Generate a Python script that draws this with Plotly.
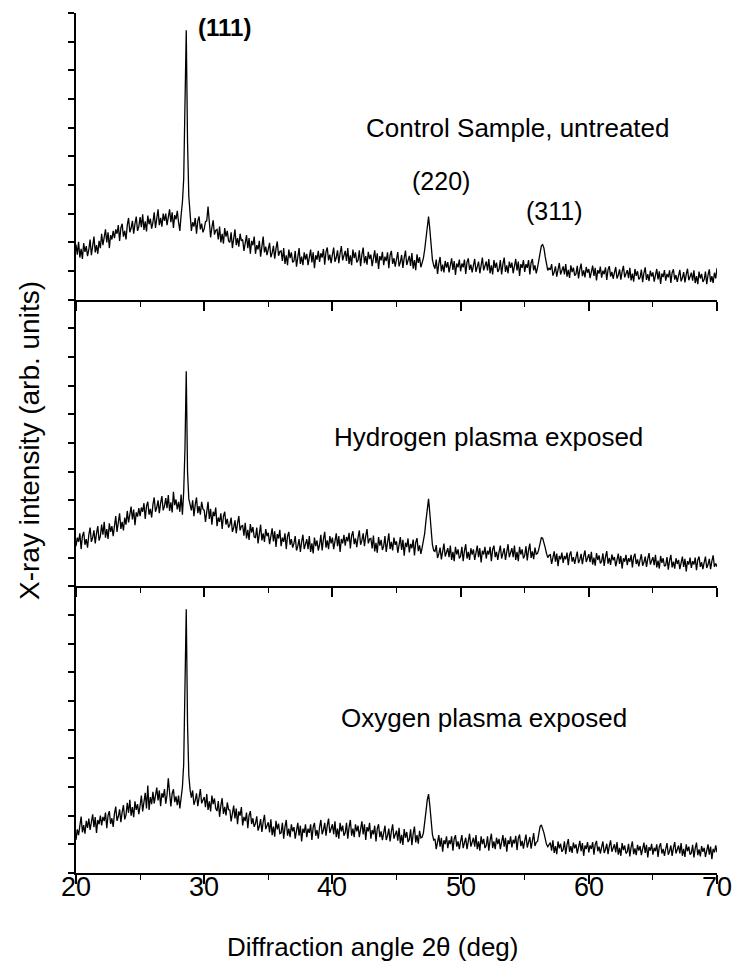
import plotly.graph_objects as go
from plotly.subplots import make_subplots

# scan grid: 2-theta from 20 to 70 deg, 0.1 deg step
two_theta = [round(20 + 0.1 * i, 1) for i in range(501)]

# intensities (arb. units, each panel scaled 0..10)
control = [
    1.92, 1.57, 2.02, 1.47, 1.77, 1.42, 1.97, 1.67, 1.87, 1.52,
    1.75, 2.10, 1.55, 1.95, 2.20, 1.65, 1.90, 1.60, 2.05, 1.80,
    2.30, 1.90, 2.20, 2.45, 2.00, 2.35, 1.80, 2.25, 2.10, 2.40,
    2.15, 2.45, 2.30, 2.60, 2.05, 2.50, 2.65, 2.20, 2.40, 2.10,
    2.60, 2.85, 2.35, 2.50, 2.75, 2.30, 2.65, 2.90, 2.40, 2.55,
    2.88, 2.53, 2.98, 2.43, 2.73, 2.38, 2.93, 2.63, 2.83, 2.48,
    2.70, 3.05, 2.50, 2.90, 3.15, 2.60, 2.85, 2.55, 3.00, 2.75,
    3.00, 2.60, 2.90, 3.15, 2.70, 3.05, 2.50, 2.95, 2.80, 3.10,
    2.70, 2.40, 2.95, 3.40, 4.20, 6.50, 9.40, 5.50, 3.60, 3.00,
    2.40, 2.70, 2.55, 2.85, 2.30, 2.75, 2.90, 2.45, 2.65, 2.35,
    2.47, 2.72, 2.75, 3.25, 2.62, 2.17, 2.52, 2.77, 2.27, 2.42,
    2.45, 2.10, 2.55, 2.00, 2.30, 1.95, 2.50, 2.20, 2.40, 2.05,
    2.00, 2.35, 1.80, 2.20, 2.45, 1.90, 2.15, 1.85, 2.30, 2.05,
    2.10, 1.70, 2.00, 2.25, 1.80, 2.15, 1.60, 2.05, 1.90, 2.20,
    1.60, 1.90, 1.75, 2.05, 1.50, 1.95, 2.20, 1.65, 1.85, 1.55,
    1.73, 1.98, 1.48, 1.63, 1.88, 1.43, 1.78, 2.03, 1.53, 1.68,
    1.70, 1.35, 1.80, 1.25, 1.55, 1.20, 1.75, 1.45, 1.65, 1.30,
    1.35, 1.70, 1.15, 1.55, 1.80, 1.25, 1.50, 1.20, 1.65, 1.40,
    1.60, 1.20, 1.50, 1.75, 1.30, 1.65, 1.10, 1.55, 1.40, 1.70,
    1.32, 1.62, 1.47, 1.77, 1.22, 1.67, 1.82, 1.37, 1.57, 1.27,
    1.57, 1.82, 1.32, 1.47, 1.72, 1.27, 1.62, 1.87, 1.37, 1.52,
    1.70, 1.35, 1.80, 1.25, 1.55, 1.20, 1.75, 1.45, 1.65, 1.30,
    1.37, 1.72, 1.17, 1.57, 1.82, 1.27, 1.52, 1.22, 1.67, 1.42,
    1.57, 1.17, 1.47, 1.72, 1.27, 1.62, 1.07, 1.52, 1.37, 1.67,
    1.20, 1.50, 1.35, 1.65, 1.10, 1.55, 1.70, 1.25, 1.45, 1.15,
    1.41, 1.66, 1.16, 1.31, 1.56, 1.11, 1.46, 1.71, 1.21, 1.36,
    1.53, 1.18, 1.63, 1.08, 1.38, 1.03, 1.58, 1.28, 1.48, 1.13,
    1.30, 1.45, 1.75, 2.20, 2.60, 2.90, 2.45, 1.85, 1.40, 1.20,
    1.08, 1.40, 0.90, 1.26, 1.49, 0.99, 1.22, 0.95, 1.35, 1.12,
    1.31, 0.95, 1.22, 1.44, 1.04, 1.35, 0.86, 1.26, 1.13, 1.40,
    0.99, 1.26, 1.13, 1.40, 0.90, 1.31, 1.44, 1.04, 1.22, 0.95,
    1.20, 1.42, 0.97, 1.11, 1.33, 0.92, 1.24, 1.47, 1.02, 1.15,
    1.33, 1.02, 1.42, 0.92, 1.20, 0.88, 1.38, 1.11, 1.29, 0.97,
    1.06, 1.38, 0.88, 1.24, 1.47, 0.97, 1.20, 0.92, 1.33, 1.11,
    1.29, 0.92, 1.20, 1.42, 1.02, 1.33, 0.83, 1.24, 1.11, 1.38,
    0.97, 1.24, 1.11, 1.38, 0.88, 1.29, 1.42, 1.02, 1.20, 0.92,
    1.12, 1.35, 1.65, 1.88, 1.92, 1.80, 1.50, 1.20, 1.02, 1.10,
    1.04, 1.24, 0.84, 0.96, 1.16, 0.80, 1.08, 1.28, 0.88, 1.00,
    1.16, 0.88, 1.24, 0.80, 1.04, 0.76, 1.20, 0.96, 1.12, 0.84,
    0.90, 1.18, 0.74, 1.06, 1.26, 0.82, 1.02, 0.78, 1.14, 0.94,
    1.07, 0.75, 0.99, 1.19, 0.83, 1.11, 0.67, 1.03, 0.91, 1.15,
    0.77, 1.01, 0.89, 1.13, 0.69, 1.05, 1.17, 0.81, 0.97, 0.73,
    0.94, 1.14, 0.74, 0.86, 1.06, 0.70, 0.98, 1.18, 0.78, 0.90,
    1.03, 0.75, 1.11, 0.67, 0.91, 0.63, 1.07, 0.83, 0.99, 0.71,
    0.77, 1.05, 0.61, 0.93, 1.13, 0.69, 0.89, 0.65, 1.01, 0.81,
    0.95, 0.63, 0.87, 1.07, 0.71, 0.99, 0.55, 0.91, 0.79, 1.03,
    0.66, 0.90, 0.78, 1.02, 0.58, 0.94, 1.06, 0.70, 0.86, 0.62,
    0.84, 1.04, 0.64, 0.76, 0.96, 0.60, 0.88, 1.08, 0.68, 0.80,
    0.94, 0.66, 1.02, 0.58, 0.82, 0.54, 0.98, 0.74, 0.90, 0.62,
    0.70, 0.98, 0.54, 0.86, 1.06, 0.62, 0.82, 0.58, 0.94, 0.74,
    1.10,
]

hydrogen = [
    1.40, 1.70, 1.55, 1.85, 1.30, 1.75, 1.90, 1.45, 1.65, 1.35,
    1.80, 2.05, 1.55, 1.70, 1.95, 1.50, 1.85, 2.10, 1.60, 1.75,
    2.15, 1.80, 2.25, 1.70, 2.00, 1.65, 2.20, 1.90, 2.10, 1.75,
    2.10, 2.45, 1.90, 2.30, 2.55, 2.00, 2.25, 1.95, 2.40, 2.15,
    2.63, 2.23, 2.53, 2.78, 2.33, 2.68, 2.13, 2.58, 2.43, 2.73,
    2.45, 2.75, 2.60, 2.90, 2.35, 2.80, 2.95, 2.50, 2.70, 2.40,
    2.85, 3.10, 2.60, 2.75, 3.00, 2.55, 2.90, 3.15, 2.65, 2.80,
    3.08, 2.73, 3.18, 2.63, 2.93, 2.58, 3.30, 2.83, 3.03, 2.68,
    2.95, 2.60, 3.20, 2.50, 3.30, 4.80, 7.50, 4.00, 3.05, 2.80,
    2.65, 3.00, 2.45, 2.85, 3.10, 2.55, 2.80, 2.50, 2.95, 2.70,
    2.65, 2.25, 2.55, 2.95, 2.35, 2.70, 2.15, 2.60, 2.45, 2.75,
    2.10, 2.40, 2.25, 2.55, 2.00, 2.45, 2.60, 2.15, 2.35, 2.05,
    2.15, 2.40, 1.90, 2.05, 2.30, 1.85, 2.20, 2.45, 1.95, 2.10,
    2.12, 1.77, 2.22, 1.67, 1.97, 1.62, 2.17, 1.87, 2.07, 1.72,
    1.70, 2.05, 1.50, 1.90, 2.15, 1.60, 1.85, 1.55, 2.00, 1.75,
    1.87, 1.47, 1.77, 2.02, 1.57, 1.92, 1.37, 1.82, 1.67, 1.97,
    1.40, 1.70, 1.55, 1.85, 1.30, 1.75, 1.90, 1.45, 1.65, 1.35,
    1.50, 1.75, 1.25, 1.40, 1.65, 1.20, 1.55, 1.80, 1.30, 1.45,
    1.65, 1.30, 1.75, 1.20, 1.50, 1.15, 1.70, 1.40, 1.60, 1.25,
    1.45, 1.80, 1.25, 1.65, 1.90, 1.35, 1.60, 1.30, 1.75, 1.50,
    1.70, 1.30, 1.60, 1.85, 1.40, 1.75, 1.20, 1.65, 1.50, 1.80,
    1.42, 1.72, 1.57, 1.87, 1.32, 1.77, 1.92, 1.47, 1.67, 1.37,
    1.70, 1.95, 1.45, 1.60, 1.85, 1.40, 1.75, 2.00, 1.50, 1.65,
    1.67, 1.32, 1.77, 1.22, 1.52, 1.17, 1.72, 1.42, 1.62, 1.27,
    1.40, 1.75, 1.20, 1.60, 1.85, 1.30, 1.55, 1.25, 1.70, 1.45,
    1.57, 1.17, 1.47, 1.72, 1.27, 1.62, 1.07, 1.52, 1.37, 1.67,
    1.18, 1.48, 1.33, 1.63, 1.08, 1.53, 1.68, 1.23, 1.43, 1.13,
    1.35, 1.55, 1.85, 2.30, 2.75, 3.05, 2.55, 1.90, 1.45, 1.25,
    1.22, 1.44, 0.99, 1.13, 1.35, 0.94, 1.26, 1.49, 1.04, 1.17,
    1.33, 1.02, 1.42, 0.92, 1.20, 0.88, 1.38, 1.11, 1.29, 0.97,
    1.06, 1.38, 0.88, 1.24, 1.47, 0.97, 1.20, 0.92, 1.33, 1.11,
    1.29, 0.92, 1.20, 1.42, 1.02, 1.33, 0.83, 1.24, 1.11, 1.38,
    0.97, 1.24, 1.11, 1.38, 0.88, 1.29, 1.42, 1.02, 1.20, 0.92,
    1.20, 1.42, 0.97, 1.11, 1.33, 0.92, 1.24, 1.47, 1.02, 1.15,
    1.33, 1.02, 1.42, 0.92, 1.20, 0.88, 1.38, 1.11, 1.29, 0.97,
    1.08, 1.40, 0.90, 1.26, 1.49, 0.99, 1.22, 0.95, 1.35, 1.12,
    1.15, 1.30, 1.55, 1.70, 1.68, 1.55, 1.35, 1.15, 1.00, 1.08,
    1.10, 0.78, 1.02, 1.22, 0.86, 1.14, 0.70, 1.06, 0.94, 1.18,
    0.82, 1.06, 0.94, 1.18, 0.74, 1.10, 1.22, 0.86, 1.02, 0.78,
    1.01, 1.21, 0.81, 0.93, 1.13, 0.77, 1.05, 1.25, 0.85, 0.97,
    1.12, 0.84, 1.20, 0.76, 1.00, 0.72, 1.16, 0.92, 1.08, 0.80,
    0.87, 1.15, 0.71, 1.03, 1.23, 0.79, 0.99, 0.75, 1.11, 0.91,
    1.02, 0.70, 0.94, 1.14, 0.78, 1.06, 0.62, 0.98, 0.86, 1.10,
    0.74, 0.98, 0.86, 1.10, 0.66, 1.02, 1.14, 0.78, 0.94, 0.70,
    0.92, 1.12, 0.72, 0.84, 1.04, 0.68, 0.96, 1.16, 0.76, 0.88,
    1.02, 0.74, 1.10, 0.66, 0.90, 0.62, 1.06, 0.82, 0.98, 0.70,
    0.74, 1.02, 0.58, 0.90, 1.10, 0.66, 0.86, 0.62, 0.98, 0.78,
    0.92, 0.60, 0.84, 1.04, 0.68, 0.96, 0.52, 0.88, 0.76, 1.00,
    0.64, 0.88, 0.76, 1.00, 0.56, 0.92, 1.04, 0.68, 0.84, 0.60,
    0.84, 1.04, 0.64, 0.76, 0.96, 0.60, 0.88, 1.08, 0.68, 0.80,
    0.68,
]

oxygen = [
    1.15, 1.52, 1.32, 1.72, 1.97, 1.42, 1.67, 1.37, 1.82, 1.57,
    1.90, 1.50, 1.80, 2.05, 1.60, 1.95, 1.40, 1.85, 1.70, 2.00,
    1.66, 1.96, 1.81, 2.11, 1.56, 2.01, 2.16, 1.71, 1.91, 1.61,
    2.07, 2.32, 1.82, 1.97, 2.22, 1.77, 2.12, 2.37, 1.87, 2.02,
    2.45, 2.10, 2.55, 2.00, 2.30, 1.95, 2.50, 2.20, 2.40, 2.05,
    2.35, 2.70, 2.15, 2.55, 2.80, 2.25, 3.05, 2.20, 2.65, 2.40,
    2.83, 2.43, 2.73, 2.98, 2.53, 2.88, 2.33, 2.78, 2.63, 2.93,
    2.42, 2.72, 3.30, 2.87, 2.32, 2.77, 2.92, 2.47, 2.67, 2.37,
    2.70, 2.25, 2.60, 3.00, 3.80, 6.00, 9.20, 5.20, 3.40, 2.90,
    2.63, 2.88, 2.38, 2.53, 2.78, 2.33, 2.68, 2.93, 2.43, 2.58,
    2.65, 2.30, 2.75, 2.20, 2.50, 2.15, 2.70, 2.40, 2.60, 2.25,
    2.16, 2.51, 1.96, 2.36, 2.61, 2.06, 2.31, 2.01, 2.46, 2.21,
    2.20, 1.80, 2.10, 2.35, 1.90, 2.25, 1.70, 2.15, 2.00, 2.30,
    1.66, 1.96, 1.81, 2.11, 1.56, 2.01, 2.16, 1.71, 1.91, 1.61,
    1.73, 1.98, 1.48, 1.63, 1.88, 1.43, 1.78, 2.03, 1.53, 1.68,
    1.77, 1.42, 1.87, 1.32, 1.62, 1.27, 1.82, 1.52, 1.72, 1.37,
    1.40, 1.75, 1.20, 1.60, 1.85, 1.30, 1.55, 1.25, 1.70, 1.45,
    1.60, 1.20, 1.50, 1.75, 1.30, 1.65, 1.10, 1.55, 1.40, 1.70,
    1.25, 1.55, 1.40, 1.70, 1.15, 1.60, 1.75, 1.30, 1.50, 1.20,
    1.60, 1.85, 1.35, 1.50, 1.75, 1.30, 1.65, 1.90, 1.40, 1.55,
    1.70, 1.35, 1.80, 1.25, 1.55, 1.20, 1.75, 1.45, 1.65, 1.30,
    1.40, 1.75, 1.20, 1.60, 1.85, 1.30, 1.55, 1.25, 1.70, 1.45,
    1.65, 1.25, 1.55, 1.80, 1.35, 1.70, 1.15, 1.60, 1.45, 1.75,
    1.20, 1.50, 1.35, 1.65, 1.10, 1.55, 1.70, 1.25, 1.45, 1.15,
    1.40, 1.65, 1.15, 1.30, 1.55, 1.10, 1.45, 1.70, 1.20, 1.35,
    1.48, 1.13, 1.58, 1.03, 1.33, 0.98, 1.53, 1.23, 1.43, 1.08,
    1.17, 1.52, 0.97, 1.37, 1.62, 1.07, 1.32, 1.02, 1.47, 1.22,
    1.25, 1.40, 1.70, 2.15, 2.55, 2.75, 2.35, 1.75, 1.35, 1.15,
    1.19, 0.83, 1.10, 1.32, 0.92, 1.23, 0.74, 1.14, 1.01, 1.28,
    0.87, 1.14, 1.01, 1.28, 0.78, 1.19, 1.32, 0.92, 1.10, 0.83,
    1.10, 1.32, 0.87, 1.01, 1.23, 0.83, 1.14, 1.37, 0.92, 1.05,
    1.23, 0.92, 1.32, 0.83, 1.10, 0.78, 1.28, 1.01, 1.19, 0.87,
    0.96, 1.28, 0.78, 1.14, 1.37, 0.87, 1.10, 0.83, 1.23, 1.01,
    1.19, 0.83, 1.10, 1.32, 0.92, 1.23, 0.74, 1.14, 1.01, 1.28,
    0.89, 1.16, 1.03, 1.30, 0.80, 1.21, 1.34, 0.94, 1.12, 0.85,
    1.12, 1.34, 0.89, 1.03, 1.25, 0.85, 1.16, 1.39, 0.94, 1.07,
    1.10, 1.40, 1.62, 1.68, 1.55, 1.40, 1.20, 1.00, 0.92, 1.02,
    1.06, 0.78, 1.14, 0.70, 0.94, 0.66, 1.10, 0.86, 1.02, 0.74,
    0.82, 1.10, 0.66, 0.98, 1.18, 0.74, 0.94, 0.70, 1.06, 0.86,
    1.00, 0.68, 0.92, 1.12, 0.76, 1.04, 0.60, 0.96, 0.84, 1.08,
    0.72, 0.96, 0.84, 1.08, 0.64, 1.00, 1.12, 0.76, 0.92, 0.68,
    0.90, 1.10, 0.70, 0.82, 1.02, 0.66, 0.94, 1.14, 0.74, 0.86,
    1.00, 0.72, 1.08, 0.64, 0.88, 0.60, 1.04, 0.80, 0.96, 0.68,
    0.74, 1.02, 0.58, 0.90, 1.10, 0.66, 0.86, 0.62, 0.98, 0.78,
    0.94, 0.62, 0.86, 1.06, 0.70, 0.98, 0.54, 0.90, 0.78, 1.02,
    0.64, 0.88, 0.76, 1.00, 0.56, 0.92, 1.04, 0.68, 0.84, 0.60,
    0.84, 1.04, 0.64, 0.76, 0.96, 0.60, 0.88, 1.08, 0.68, 0.80,
    0.96, 0.68, 1.04, 0.60, 0.84, 0.56, 1.00, 0.76, 0.92, 0.64,
    0.70, 0.98, 0.54, 0.86, 1.06, 0.62, 0.82, 0.58, 0.94, 0.74,
    0.88, 0.56, 0.80, 1.00, 0.64, 0.92, 0.48, 0.84, 0.72, 0.96,
    0.72,
]

sample_labels = ["Control Sample, untreated", "Hydrogen plasma exposed", "Oxygen plasma exposed"]
series = [control, hydrogen, oxygen]
x_ticks = [20, 30, 40, 50, 60, 70]
x_tick_labels = ["20", "30", "40", "50", "60", "70"]
x_title = "Diffraction angle 2\u03b8 (deg)"
y_title = "X-ray intensity (arb. units)"
reflections = ["(111)", "(220)", "(311)"]

FONT = "Liberation Sans, Arial, Helvetica, sans-serif"

W, H = 734, 970
ML, MR, MT, MB = 76, 17, 13, 97

fig = make_subplots(rows=3, cols=1, shared_xaxes=True, vertical_spacing=0)

for i, ys in enumerate(series):
    fig.add_trace(
        go.Scatter(x=two_theta, y=ys, mode="lines",
                   line=dict(color="black", width=1.3), showlegend=False,
                   hoverinfo="skip"),
        row=i + 1, col=1,
    )

for i in range(3):
    fig.update_xaxes(
        range=[20, 70], tickvals=x_ticks, ticks="outside", ticklen=9, tickwidth=1.6,
        tickcolor="black", showline=True, linecolor="black", linewidth=2,
        showgrid=False, zeroline=False, mirror=False,
        minor=dict(dtick=5, tick0=20, ticks="outside", ticklen=5, tickwidth=1.4,
                   tickcolor="black", showgrid=False),
        showticklabels=False,
        row=i + 1, col=1,
    )
    fig.update_yaxes(
        range=[0, 10], dtick=1, tick0=0, ticks="outside", ticklen=6, tickwidth=1.6,
        tickcolor="black", showline=True, linecolor="black", linewidth=2,
        showgrid=False, zeroline=False, showticklabels=False,
        row=i + 1, col=1,
    )

annos = [
    dict(text=reflections[0], x=31.6, y=9.5, xref="x", yref="y",
         font=dict(size=24, weight="bold")),
    dict(text=sample_labels[0], x=54.5, y=6.0, xref="x", yref="y",
         font=dict(size=26)),
    dict(text=reflections[1], x=48.45, y=4.15, xref="x", yref="y",
         font=dict(size=25)),
    dict(text=reflections[2], x=57.35, y=3.1, xref="x", yref="y",
         font=dict(size=25)),
    dict(text=sample_labels[1], x=52.2, y=5.2, xref="x2", yref="y2",
         font=dict(size=26)),
    dict(text=sample_labels[2], x=51.85, y=5.4, xref="x3", yref="y3",
         font=dict(size=26)),
    dict(text=x_title, x=372, y=947, xref="paper", yref="paper",
         font=dict(size=26)),
    dict(text=y_title, x=30, y=441, xref="paper", yref="paper", textangle=-90,
         font=dict(size=28)),
]
# x tick labels of the bottom panel, placed just below the axis
for xv, lab in zip(x_ticks, x_tick_labels):
    annos.append(dict(text=lab, x=xv, y=887, xref="x3", yref="paper",
                      font=dict(size=27)))

for a in annos:
    f = dict(family=FONT, color="black")
    f.update(a["font"])
    a["font"] = f
    a["showarrow"] = False
    a["xanchor"] = "center"
    a["yanchor"] = "middle"
    if a["xref"] == "paper":
        a["x"] = (a["x"] - ML) / (W - ML - MR)
    if a["yref"] == "paper":
        a["y"] = (H - MB - a["y"]) / (H - MT - MB)
    fig.add_annotation(**a)

fig.update_layout(
    width=W, height=H,
    margin=dict(l=ML, r=MR, t=MT, b=MB),
    paper_bgcolor="white", plot_bgcolor="white",
    font=dict(family=FONT, color="black"),
)

fig.write_html("out.html")
